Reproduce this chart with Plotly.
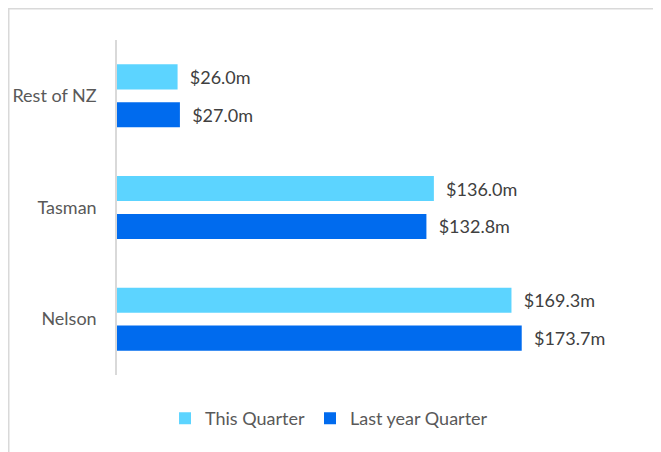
import plotly.graph_objects as go

regions = ['Nelson', 'Tasman', 'Rest of NZ']
this_q = [169.3, 136.0, 26.0]
last_yr_q = [173.7, 132.8, 27.0]

font = 'Lato, "Open Sans", sans-serif'
grey = '#595959'
pad = '\u00a0\u00a0'

fig = go.Figure()
fig.add_bar(y=regions, x=last_yr_q, orientation='h', name='Last year Quarter',
            marker=dict(color='#006BEE', line=dict(width=0)),
            text=[f'{pad}${v:.1f}m' for v in last_yr_q], textposition='outside',
            textfont=dict(size=18, color='#404040', family=font), cliponaxis=False)
fig.add_bar(y=regions, x=this_q, orientation='h', name='This Quarter',
            marker=dict(color='#5CD4FF', line=dict(width=0)),
            text=[f'{pad}${v:.1f}m' for v in this_q], textposition='outside',
            textfont=dict(size=18, color='#404040', family=font), cliponaxis=False)

fig.update_layout(
    width=661, height=452, template='plotly_white',
    paper_bgcolor='white', plot_bgcolor='white',
    margin=dict(l=109, r=86, t=32, b=85),
    barmode='group', bargap=0.32, bargroupgap=0.34,
    font=dict(family=font, size=18, color=grey),
    legend=dict(orientation='h', x=0.455, xanchor='center', y=-0.13, yanchor='middle',
                traceorder='reversed', font=dict(size=18, color=grey)),
    xaxis=dict(range=[0, 200], visible=False, showgrid=False, automargin=False),
    yaxis=dict(categoryorder='array', categoryarray=regions, showgrid=False,
               showline=True, linecolor='#d9d9d9', linewidth=1.5, automargin=False,
               ticks='', ticklabelstandoff=15, tickfont=dict(size=18, color=grey)),
    showlegend=True,
)
# light frame (only top and left edges fall inside the window)
fig.add_shape(type='rect', xref='paper', yref='paper', x0=-0.2323, x1=1.5, y0=-0.5, y1=1.0933,
              line=dict(color='#d9d9d9', width=1.5), layer='below')

fig.write_html('out.html')
